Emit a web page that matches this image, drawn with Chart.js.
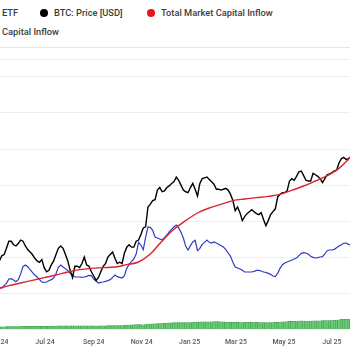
<!DOCTYPE html>
<html>
<head>
<meta charset="utf-8">
<title>BTC price and capital inflow</title>
<script src="https://cdn.jsdelivr.net/npm/chart.js@4.4.1/dist/chart.umd.min.js"></script>
<style>
  html, body { margin: 0; padding: 0; background: #fff; overflow: hidden; }
  body { width: 350px; height: 350px; position: relative; font-family: Roboto, "Noto Sans", sans-serif; }
  .legend { position: absolute; left: 0; top: 0; width: 350px; height: 47px; border-bottom: 1px solid #e6e6e6;
            font-size: 9.3px; font-weight: 500; color: #3c3c3c; }
  .legend span { position: absolute; white-space: nowrap; line-height: 10px; }
  .legend .dot { width: 8px; height: 8px; border-radius: 50%; }
  .chart-box { position: absolute; left: -12px; top: 48px; width: 362px; height: 302px; }
</style>
</head>
<body>
<div class="legend">
  <span style="left:2px;top:8px">ETF</span>
  <span class="dot" style="left:40px;top:9px;background:#000"></span>
  <span style="left:54px;top:8px">BTC: Price [USD]</span>
  <span class="dot" style="left:147px;top:9px;background:#e8141c"></span>
  <span style="left:161px;top:8px">Total Market Capital Inflow</span>
  <span style="left:2px;top:27px">Capital Inflow</span>
</div>
<div class="chart-box"><canvas id="flowChart"></canvas></div>

<script>
'use strict';

/* Day 0 = 1 May 2024.
 * Price, ETF inflow and the blue flow line are sampled every 3 days,
 * the total market inflow every 15 days.
 */
var STEP = 3;
var MARKET_STEP = 15;

// BTC close, thousands of USD
var btcPriceK = [
  60.5, 61.5, 63.5, 64, 66.5, 69.5, 69.5, 68, 67.5, 68.5,
  70, 69.5, 67.5, 66, 65, 64, 62.5, 61.5, 61, 62,
  59, 57.5, 58, 60, 61.5, 64, 66.5, 67.5, 66.5, 64,
  61.5, 58, 55.5, 59.5, 59.5, 59, 60.5, 63, 60, 59.5,
  57.5, 56, 54.5, 55.5, 57.5, 59.5, 60.5, 63, 64, 65,
  62.5, 60.5, 61, 60.5, 64.5, 67, 68, 67, 67, 69.5,
  70, 72.5, 75.5, 76, 86, 87.5, 89.5, 90, 95.5, 97,
  94.5, 95, 97, 98, 99.5, 100.5, 103.5, 101.5, 98.5, 95.5,
  94.5, 94, 97, 99.5, 96, 92, 99.5, 102.5, 103, 103.5,
  102, 100.5, 99, 96, 96, 95.5, 96, 96.5, 95.5, 93,
  89.5, 84, 86, 83, 79, 81, 82.5, 83.5, 84.5, 83.5,
  82.5, 82, 83, 79.5, 76.5, 79, 82, 83.5, 85, 91.5,
  93, 94, 94, 95, 101, 102.5, 101.5, 104, 107, 107.5,
  104.5, 101.5, 101, 101, 106, 105, 104, 102.5, 100, 102.5,
  105, 105.5, 106.5, 107.5, 108, 113, 116, 117, 115.5, 116,
  117.5
];

// capital inflow (blue), billions of USD
var capitalInflow = [
  558, 556, 553, 560, 567, 580, 581, 577, 572, 578,
  595, 617, 622, 617, 608, 600, 592, 586, 578, 571,
  570, 571, 575, 578, 583, 596, 615, 622, 616, 611,
  605, 597, 591, 586, 586, 586, 585, 586, 588, 591,
  590, 580, 574, 568, 570, 571, 573, 575, 578, 585,
  592, 587, 585, 583, 590, 612, 624, 632, 640, 655,
  690, 682, 668, 705, 736, 735, 726, 706, 703, 700,
  697, 704, 712, 721, 729, 736, 742, 734, 720, 703,
  678, 667, 680, 691, 696, 665, 672, 684, 690, 697,
  690, 688, 691, 688, 684, 680, 676, 668, 658, 648,
  630, 616, 613, 610, 606, 601, 601, 601, 601, 603,
  606, 606, 604, 601, 600, 597, 594, 589, 587, 597,
  612, 623, 628, 631, 634, 637, 640, 643, 650, 657,
  659, 658, 654, 648, 645, 643, 644, 646, 647, 655,
  665, 667, 667, 669, 674, 679, 683, 687, 688, 684,
  682
];

// total market capital inflow (red), billions of USD
var marketInflow = [
  550, 560, 568, 576, 584, 592, 601, 608, 612, 614,
  616, 623, 631, 655, 694, 729, 755, 778, 793, 804,
  815, 820, 824, 828, 834, 846, 859, 874, 890, 912,
  946
];

// cumulative spot ETF net inflow (green bars), billions of USD
var etfInflow = [
  12.0, 11.5, 11.8, 12.3, 12.8, 13.1, 13.6, 13.8, 13.9, 13.6,
  13.7, 14.3, 15.1, 15.4, 14.9, 14.5, 14.3, 14.4, 14.5, 14.2,
  14.4, 14.6, 15.2, 15.6, 16.2, 16.9, 17.3, 17.5, 17.7, 17.6,
  17.8, 17.6, 17.4, 17.8, 17.6, 17.9, 18.2, 18.1, 17.8, 17.6,
  17.4, 17.2, 16.9, 17.2, 17.4, 17.8, 18.2, 18.5, 18.9, 18.6,
  18.8, 18.6, 18.8, 19.6, 20.6, 21.2, 21.9, 22.5, 23.2, 24.0,
  24.3, 24.0, 23.8, 25.2, 26.8, 27.5, 28.5, 29.2, 29.8, 30.2,
  30.4, 31.6, 32.5, 33.8, 34.6, 35.4, 36.2, 35.6, 35.5, 35.6,
  35.3, 35.6, 36.2, 37.2, 38.1, 38.7, 39.6, 40.0, 40.1, 40.2,
  40.4, 40.0, 40.6, 40.9, 40.6, 39.7, 39.3, 38.7, 38.2, 37.1,
  36.9, 36.7, 36.5, 36.0, 35.6, 36.4, 36.9, 37.0, 36.6, 36.3,
  36.4, 36.0, 36.0, 35.7, 35.3, 35.5, 35.4, 35.5, 37.6, 38.5,
  39.1, 40.3, 40.1, 41.6, 42.1, 42.7, 43.3, 43.9, 44.6, 44.7,
  44.4, 44.4, 44.2, 44.6, 45.0, 45.7, 45.4, 45.7, 46.3, 46.9,
  47.1, 47.2, 47.4, 48.2, 48.9, 51.4, 53.8, 54.2, 54.9, 54.4,
  54.7
];

// x axis: first day of every other month
var tickDays = [0, 61, 123, 184, 245, 304, 365, 426];
var tickLabels = ['May 24', 'Jul 24', 'Sep 24', 'Nov 24', 'Jan 25', 'Mar 25', 'May 25', 'Jul 25'];

function toPoints(values, step) {
  return values.map(function (v, i) { return { x: i * step, y: v }; });
}

// month labels under the plot, placed through the x scale
// (drawn here so the edge labels don't pull the plot area inwards)
var monthLabels = {
  id: 'monthLabels',
  afterDraw: function (chart) {
    var xScale = chart.scales.x;
    var c = chart.ctx;
    c.save();
    c.font = '500 7px Roboto, "Noto Sans", sans-serif';
    c.fillStyle = '#5a5a5a';
    c.textAlign = 'center';
    c.textBaseline = 'middle';
    tickDays.forEach(function (d, i) {
      c.fillText(tickLabels[i], xScale.getPixelForValue(d), chart.chartArea.bottom + 13);
    });
    c.restore();
  }
};

var ctx = document.getElementById('flowChart').getContext('2d');
var flowChart = new Chart(ctx, {
  type: 'line',
  data: {
    datasets: [{
      label: 'Total Market Capital Inflow',
      data: toPoints(marketInflow, MARKET_STEP),
      yAxisID: 'yFlow',
      borderColor: '#d92530',
      borderWidth: 1.4,
      tension: 0.4,
      pointRadius: 0,
      order: 0
    }, {
      label: 'BTC: Price [USD]',
      data: toPoints(btcPriceK, STEP),
      yAxisID: 'yPrice',
      borderColor: '#000000',
      borderWidth: 1.4,
      tension: 0,
      pointRadius: 0,
      order: 1
    }, {
      label: 'Capital Inflow',
      data: toPoints(capitalInflow, STEP),
      yAxisID: 'yFlow',
      borderColor: '#2f3dc2',
      borderWidth: 1.2,
      tension: 0,
      pointRadius: 0,
      order: 2
    }, {
      type: 'bar',
      label: 'ETF',
      data: toPoints(etfInflow, STEP),
      yAxisID: 'yEtf',
      backgroundColor: '#6cc978',
      borderColor: '#3c9a4a',
      borderWidth: 0.5,
      barPercentage: 1,
      categoryPercentage: 1,
      order: 3
    }]
  },
  options: {
    responsive: true,
    maintainAspectRatio: false,
    animation: false,
    layout: { padding: { top: 11, bottom: 21, left: 0, right: 0 } },
    plugins: {
      legend: { display: false },
      tooltip: { enabled: false }
    },
    scales: {
      x: {
        type: 'linear',
        display: false,
        offset: false,
        grid: { offset: false },
        min: -11.5,
        max: 449
      },
      yGrid: {
        position: 'left',
        min: 0,
        max: 7.5,
        ticks: { display: false, stepSize: 1 },
        grid: { color: '#eeeeee', drawTicks: false },
        border: { display: false }
      },
      yPrice: { type: 'logarithmic', display: false, min: 40.3, max: 215.5 },
      yFlow: { display: false, min: 430, max: 1240 },
      yEtf: { display: false, min: 0, max: 1500 }
    }
  },
  plugins: [monthLabels]
});
</script>
</body>
</html>
